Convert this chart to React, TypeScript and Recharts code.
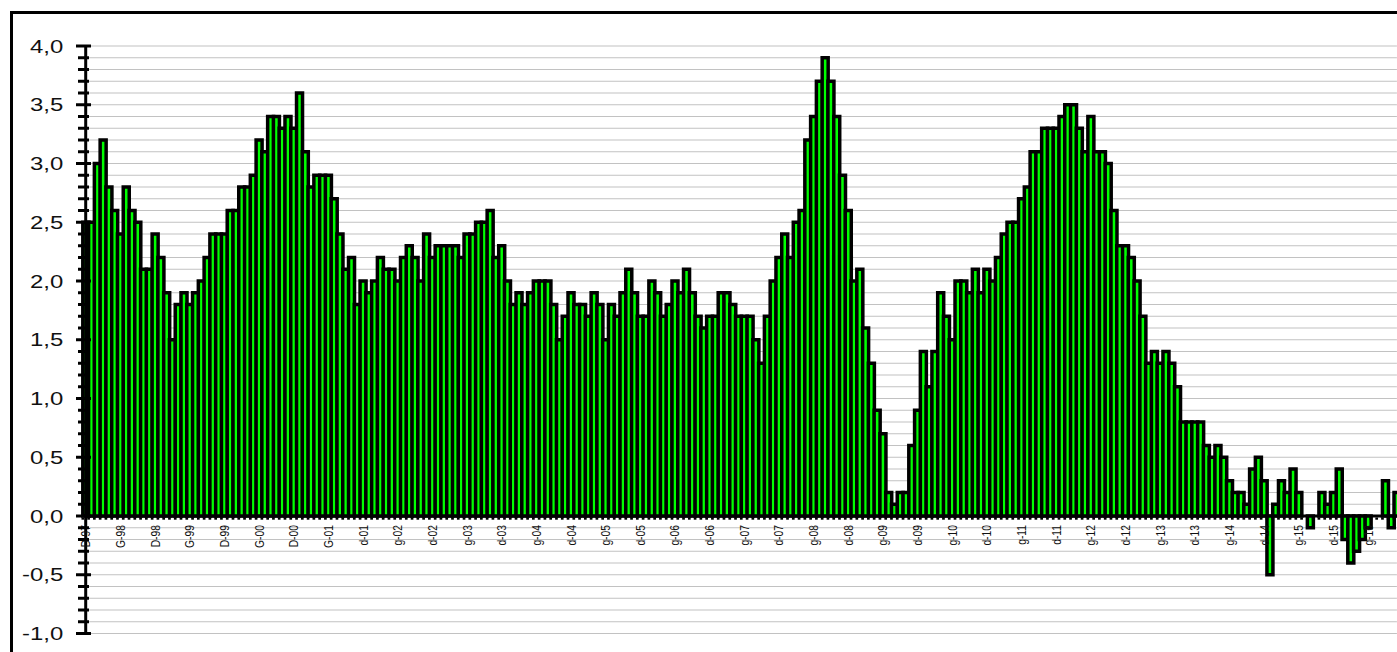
import React from 'react';
import { ComposedChart, Bar, Line, XAxis, YAxis, CartesianGrid } from 'recharts';

// Monthly values, Dec 1997 .. Nov 2016 (first bar sits on the vertical axis)
const V1997 = [2.5];
const V1998 = [2.5, 3.0, 3.2, 2.8, 2.6, 2.4, 2.8, 2.6, 2.5, 2.1, 2.1, 2.4];
const V1999 = [2.2, 1.9, 1.5, 1.8, 1.9, 1.8, 1.9, 2.0, 2.2, 2.4, 2.4, 2.4];
const V2000 = [2.6, 2.6, 2.8, 2.8, 2.9, 3.2, 3.1, 3.4, 3.4, 3.3, 3.4, 3.3];
const V2001 = [3.6, 3.1, 2.8, 2.9, 2.9, 2.9, 2.7, 2.4, 2.1, 2.2, 1.8, 2.0];
const V2002 = [1.9, 2.0, 2.2, 2.1, 2.1, 2.0, 2.2, 2.3, 2.2, 2.0, 2.4, 2.2];
const V2003 = [2.3, 2.3, 2.3, 2.3, 2.2, 2.4, 2.4, 2.5, 2.5, 2.6, 2.2, 2.3];
const V2004 = [2.0, 1.8, 1.9, 1.8, 1.9, 2.0, 2.0, 2.0, 1.8, 1.5, 1.7, 1.9];
const V2005 = [1.8, 1.8, 1.7, 1.9, 1.8, 1.5, 1.8, 1.7, 1.9, 2.1, 1.9, 1.7];
const V2006 = [1.7, 2.0, 1.9, 1.7, 1.8, 2.0, 1.9, 2.1, 1.9, 1.7, 1.6, 1.7];
const V2007 = [1.7, 1.9, 1.9, 1.8, 1.7, 1.7, 1.7, 1.5, 1.3, 1.7, 2.0, 2.2];
const V2008 = [2.4, 2.2, 2.5, 2.6, 3.2, 3.4, 3.7, 3.9, 3.7, 3.4, 2.9, 2.6];
const V2009 = [2.0, 2.1, 1.6, 1.3, 0.9, 0.7, 0.2, 0.1, 0.2, 0.2, 0.6, 0.9];
const V2010 = [1.4, 1.1, 1.4, 1.9, 1.7, 1.5, 2.0, 2.0, 1.9, 2.1, 1.9, 2.1];
const V2011 = [2.0, 2.2, 2.4, 2.5, 2.5, 2.7, 2.8, 3.1, 3.1, 3.3, 3.3, 3.3];
const V2012 = [3.4, 3.5, 3.5, 3.3, 3.1, 3.4, 3.1, 3.1, 3.0, 2.6, 2.3, 2.3];
const V2013 = [2.2, 2.0, 1.7, 1.3, 1.4, 1.3, 1.4, 1.3, 1.1, 0.8, 0.8, 0.8];
const V2014 = [0.8, 0.6, 0.5, 0.6, 0.5, 0.3, 0.2, 0.2, 0.1, 0.4, 0.5, 0.3];
const V2015 = [-0.5, 0.1, 0.3, 0.2, 0.4, 0.2, 0.0, -0.1, 0.0, 0.2, 0.1, 0.2];
const V2016 = [0.4, -0.2, -0.4, -0.3, -0.2, -0.1, 0.0, 0.0, 0.3, -0.1, 0.2];

const VALUES = [
  ...V1997, ...V1998, ...V1999, ...V2000, ...V2001, ...V2002, ...V2003, ...V2004,
  ...V2005, ...V2006, ...V2007, ...V2008, ...V2009, ...V2010, ...V2011, ...V2012,
  ...V2013, ...V2014, ...V2015, ...V2016,
];

// Category labels shown every 6 months (Dicembre / Giugno)
const X_LABELS = [
  'D-97', 'G-98', 'D-98', 'G-99', 'D-99', 'G-00', 'D-00', 'G-01', 'd-01', 'g-02',
  'd-02', 'g-03', 'd-03', 'g-04', 'd-04', 'g-05', 'd-05', 'g-06', 'd-06', 'g-07',
  'd-07', 'g-08', 'd-08', 'g-09', 'd-09', 'g-10', 'd-10', 'g-11', 'd-11', 'g-12',
  'd-12', 'g-13', 'd-13', 'g-14', 'd-14', 'g-15', 'd-15', 'g-16',
];
const LABEL_STEP = 6;

const MONTHS = ['gen', 'feb', 'mar', 'apr', 'mag', 'giu', 'lug', 'ago', 'set', 'ott', 'nov', 'dic'];
const START_YEAR = 1997;
const START_MONTH = 11; // December

const Y_DOMAIN: [number, number] = [-1, 4];
const Y_TICKS = Array.from({ length: 51 }, (_, i) => Math.round(-10 + i) / 10);

const data = VALUES.map((v, i) => {
  const m = START_MONTH + i;
  const year = START_YEAR + Math.floor(m / 12);
  return {
    month: `${MONTHS[m % 12]}-${String(year).slice(2)}`,
    value: v,
    label: i % LABEL_STEP === 0 ? X_LABELS[i / LABEL_STEP] : '',
  };
});

// layout
const W = 1420;
const H = 660;
const Y_AXIS_W = 72.7;
const MARGIN = { top: 32, right: 36.1, bottom: 40.5, left: 0 };
const PLOT_W = W - Y_AXIS_W - MARGIN.left - MARGIN.right;
const BW = PLOT_W / (VALUES.length - 1);
const FONT = '"Liberation Sans", Arial, sans-serif';
const STRETCH = 1.28;

const fmt = (v: number) => v.toFixed(1).replace('.', ',').replace('-0,0', '0,0');

const YTick = (props: any) => {
  const { x, y, payload } = props;
  const v = payload.value as number;
  const major = Math.abs(v * 2 - Math.round(v * 2)) < 1e-6;
  return (
    <g>
      <line
        x1={major ? x - 9.7 : x - 7.7}
        x2={major ? x + 5.3 : x + 3.3}
        y1={y}
        y2={y}
        stroke="#000"
        strokeWidth={3}
      />
      {major && (
        <text
          transform={`translate(${x - 22.4},${y}) scale(${STRETCH},1)`}
          textAnchor="end"
          dy="0.35em"
          fontSize={18.7}
          fontFamily={FONT}
          fill="#111"
        >
          {fmt(v)}
        </text>
      )}
    </g>
  );
};

const renderXDot = (props: any) => {
  const { cx, cy, index, points, payload } = props;
  const bw = points && points.length > 1 ? points[1].x - points[0].x : BW;
  return (
    <g key={`xd-${index}`}>
      <rect x={cx - bw / 2 - 1.35} y={cy + 1.5} width={2.7} height={2.2} fill="#000" />
      {payload.label ? (
        <text
          transform={`translate(${cx},${cy + 9}) scale(${STRETCH},1) rotate(-90)`}
          textAnchor="end"
          dy="0.35em"
          fontSize={10.3}
          fontFamily={FONT}
          fill="#111"
        >
          {payload.label}
        </text>
      ) : null}
    </g>
  );
};

export default function App() {
  return (
    <div style={{ position: 'fixed', left: 0, top: 0, width: 1397, height: 652, overflow: 'hidden', background: '#fff' }}>
      <div
        style={{
          position: 'absolute',
          left: 10,
          top: 11,
          width: 1500,
          height: 720,
          border: '3px solid #000',
          background: '#fff',
        }}
      >
        <ComposedChart
          width={W}
          height={H}
          data={data}
          margin={MARGIN}
          barCategoryGap={0}
          barGap={0}
        >
          <CartesianGrid horizontal vertical={false} stroke="#c2c2c2" strokeWidth={1.2} />
          <Line
            dataKey={() => 0}
            stroke="#000"
            strokeWidth={3}
            dot={renderXDot}
            activeDot={false}
            isAnimationActive={false}
            zIndex={250}
          />
          <Bar dataKey="value" fill="#00ff00" stroke="#000" strokeWidth={3.5} isAnimationActive={false} />
          <XAxis dataKey="month" type="category" hide padding={{ left: -BW / 2, right: -BW / 2 }} />
          <YAxis
            type="number"
            domain={Y_DOMAIN}
            ticks={Y_TICKS}
            interval={0}
            allowDataOverflow
            width={Y_AXIS_W}
            tickSize={0}
            tickMargin={0}
            tickLine={false}
            axisLine={{ stroke: '#000', strokeWidth: 3 }}
            tick={<YTick />}
          />
        </ComposedChart>
      </div>
    </div>
  );
}
